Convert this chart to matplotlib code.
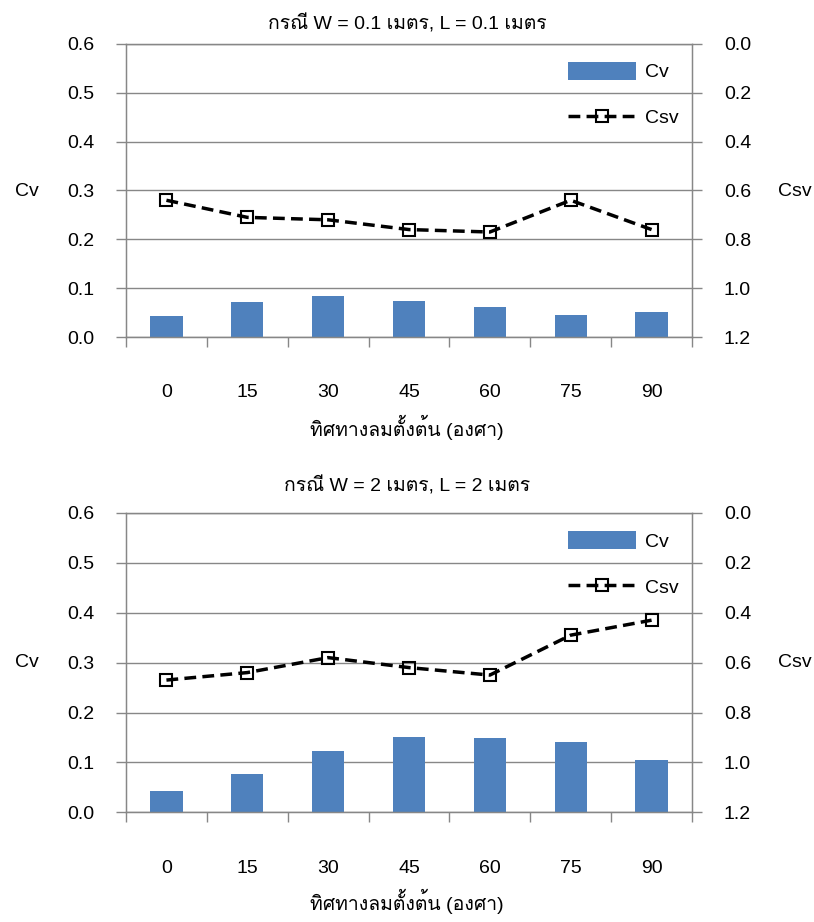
import matplotlib
matplotlib.use('Agg')
import matplotlib.pyplot as plt
from matplotlib import font_manager
from matplotlib.ft2font import FT2Font

# data
angles = ['0', '15', '30', '45', '60', '75', '90']
cv_small = [0.042, 0.071, 0.083, 0.074, 0.062, 0.046, 0.051]
csv_small = [0.64, 0.71, 0.72, 0.76, 0.77, 0.64, 0.76]
cv_large = [0.043, 0.077, 0.123, 0.151, 0.148, 0.141, 0.105]
csv_large = [0.67, 0.64, 0.58, 0.62, 0.65, 0.49, 0.43]

title_small = 'กรณี W = 0.1 เมตร, L = 0.1 เมตร'
title_large = 'กรณี W = 2 เมตร, L = 2 เมตร'
xlabel = 'ทิศทางลมตั้งต้น (องศา)'


def find_thai_fonts():
    found = []
    for f in font_manager.fontManager.ttflist:
        try:
            if 0x0E01 in FT2Font(f.fname).get_charmap():
                if f.name not in found:
                    found.append(f.name)
        except Exception:
            pass
    return found


thai_fonts = find_thai_fonts()
prefer = ['Loma', 'Noto Sans Thai', 'Garuda', 'Umpush', 'Waree', 'Sawasdee',
          'Anuphan', 'Laksaman', 'Kinnari', 'Norasi']
thai_name = None
for p in prefer:
    if p in thai_fonts:
        thai_name = p
        break
if thai_name is None and thai_fonts:
    thai_name = thai_fonts[0]

families = ['Liberation Sans']
if thai_name:
    families.append(thai_name)
families.append('DejaVu Sans')
plt.rcParams['font.family'] = families
plt.rcParams['font.size'] = 14

grey = '#878787'
blue = '#4F81BD'

fig = plt.figure(figsize=(8.14, 9.22), dpi=100)


def draw_panel(rect, cv, csv, title, title_y, xlabel_y, ylab_y):
    ax = fig.add_axes(rect)
    x = list(range(len(angles)))
    bars = ax.bar(x, cv, width=0.4, color=blue, zorder=2, label='Cv')
    ax.set_xlim(-0.5, len(angles) - 0.5)
    ax.set_ylim(0, 0.6)
    ax.set_yticks([0, 0.1, 0.2, 0.3, 0.4, 0.5, 0.6])
    ax.set_yticklabels(['%.1f' % v for v in [0, 0.1, 0.2, 0.3, 0.4, 0.5, 0.6]])
    ax.set_xticks(x)
    ax.set_xticklabels(angles)
    ax.set_xticks([i - 0.5 for i in range(len(angles) + 1)], minor=True)
    ax.tick_params(axis='x', which='major', length=0, pad=34)
    ax.tick_params(axis='x', which='minor', length=7, width=1, color=grey, direction='out')
    ax.tick_params(axis='y', length=7, width=1, color=grey, direction='out', pad=16)
    ax.grid(axis='y', color=grey, linewidth=1, zorder=0)
    ax.set_axisbelow(True)
    for s in ['left', 'right', 'bottom', 'top']:
        ax.spines[s].set_color(grey)
        ax.spines[s].set_linewidth(1)

    ax2 = ax.twinx()
    line, = ax2.plot(x, csv, color='black', linestyle='--', linewidth=2.5,
                     dashes=(3.4, 1.8), marker='s', markersize=9,
                     markerfacecolor='none', markeredgecolor='black',
                     markeredgewidth=1.5, label='Csv')
    ax2.set_ylim(1.2, 0)
    ax2.set_yticks([0, 0.2, 0.4, 0.6, 0.8, 1.0, 1.2])
    ax2.set_yticklabels(['%.1f' % v for v in [0, 0.2, 0.4, 0.6, 0.8, 1.0, 1.2]])
    ax2.tick_params(axis='y', length=7, width=1, color=grey, direction='out', pad=16)
    for s in ['left', 'right', 'bottom', 'top']:
        ax2.spines[s].set_color(grey)

    ax2.legend(handles=[bars, line], loc='upper left', bbox_to_anchor=(0.781, 0.94),
               frameon=False, handlelength=3.5, handleheight=1.05, handletextpad=0.45,
               labelspacing=1.36, borderpad=0, borderaxespad=0, numpoints=1)

    fig.text(0.5, title_y, title, ha='center', va='baseline')
    fig.text(0.5, xlabel_y, xlabel, ha='center', va='baseline')
    fig.text(27 / 814, ylab_y, 'Cv', ha='center', va='center')
    fig.text(795 / 814, ylab_y, 'Csv', ha='center', va='center')
    return ax


draw_panel([126 / 814, 1 - 337 / 922, 566 / 814, 293 / 922], cv_small, csv_small,
           title_small, 1 - 29 / 922, 1 - 436 / 922, 1 - 192 / 922)
draw_panel([126 / 814, 1 - 812.3 / 922, 566 / 814, 299.4 / 922], cv_large, csv_large,
           title_large, 1 - 492 / 922, 1 - 910 / 922, 1 - 662 / 922)

fig.savefig('out.png', dpi=100)
